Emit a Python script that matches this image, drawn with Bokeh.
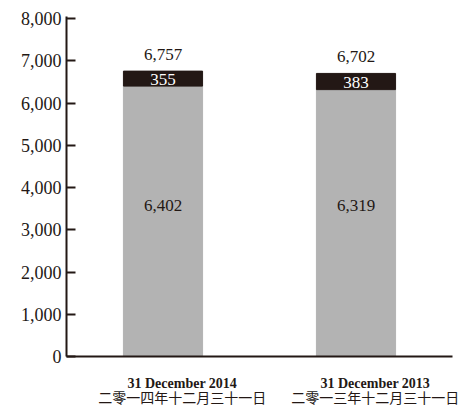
from bokeh.plotting import figure
from bokeh.models import (Range1d, LinearAxis, FixedTicker, NumeralTickFormatter,
                          ColumnDataSource)
from bokeh.embed import file_html
from bokeh.resources import INLINE
from bokeh.core.properties import value

# ---- data ----
dates_en = ["31 December 2014", "31 December 2013"]
dates_zh = ["二零一四年十二月三十一日", "二零一三年十二月三十一日"]
base_values = [6402, 6319]
top_values = [355, 383]
totals = [6757, 6702]
y_ticks = [0, 1000, 2000, 3000, 4000, 5000, 6000, 7000, 8000]

# ---- style ----
INK = "#231815"
GREY = "#b3b3b3"
SERIF = "Liberation Serif"
INNER_LABEL_Y = 3570
BAR_W = 0.41

idx = list(range(len(dates_en)))
stack_top = [b + t for b, t in zip(base_values, top_values)]
src = ColumnDataSource(dict(
    x=idx,
    base=base_values,
    stack_top=stack_top,
    total=totals,
    mid=[b + t / 2 for b, t in zip(base_values, top_values)],
    inner=[INNER_LABEL_Y] * len(idx),
    base_lbl=[f"{v:,}" for v in base_values],
    top_lbl=[f"{v:,}" for v in top_values],
    total_lbl=[f"{v:,}" for v in totals],
))

p = figure(width=465, height=408,
           x_range=Range1d(-0.5, 1.5), y_range=Range1d(0, 8050),
           output_backend="svg", toolbar_location=None,
           x_axis_location=None, y_axis_location=None,
           min_border_left=66, min_border_right=13,
           min_border_top=16, min_border_bottom=51)
p.extra_x_ranges = {"lab": Range1d(-0.6, 1.4)}
p.outline_line_color = None
p.background_fill_color = "white"
p.border_fill_color = "white"

p.vbar(x="x", bottom=0, top="base", width=BAR_W, color=GREY, source=src)
p.vbar(x="x", bottom="base", top="stack_top", width=BAR_W, color=INK, source=src)

p.text(x="x", y="total", text="total_lbl", y_offset=-17,
       text_align="center", text_baseline="middle",
       text_font=value(SERIF), text_font_size="17px", text_color=INK, source=src)
p.text(x="x", y="mid", text="top_lbl", y_offset=1,
       text_align="center", text_baseline="middle",
       text_font=value(SERIF), text_font_size="17px", text_color="white", source=src)
p.text(x="x", y="inner", text="base_lbl",
       text_align="center", text_baseline="middle",
       text_font=value(SERIF), text_font_size="17px", text_color=INK, source=src)

yax = LinearAxis(ticker=FixedTicker(ticks=y_ticks),
                 formatter=NumeralTickFormatter(format="0,0"),
                 axis_line_color=INK, axis_line_width=2,
                 major_tick_in=9, major_tick_out=0,
                 major_tick_line_color=INK, major_tick_line_width=2,
                 minor_tick_line_color=None,
                 major_label_text_font=SERIF, major_label_text_font_size="18px",
                 major_label_text_color=INK, major_label_standoff=5)
p.add_layout(yax, "left")

xax = LinearAxis(x_range_name="lab", ticker=FixedTicker(ticks=idx),
                 major_label_overrides={i: s for i, s in zip(idx, dates_en)},
                 axis_line_color=INK, axis_line_width=2,
                 major_tick_line_color=None, minor_tick_line_color=None,
                 major_tick_in=0, major_tick_out=0,
                 major_label_text_font=SERIF, major_label_text_font_style="bold",
                 major_label_text_font_size="14px", major_label_text_color=INK,
                 major_label_standoff=19)
p.add_layout(xax, "below")

zhax = LinearAxis(x_range_name="lab", ticker=FixedTicker(ticks=idx),
                  major_label_overrides={i: s for i, s in zip(idx, dates_zh)},
                  axis_line_color=None,
                  major_tick_line_color=None, minor_tick_line_color=None,
                  major_tick_in=0, major_tick_out=0,
                  major_label_text_font="Liberation Serif, Noto Sans CJK TC",
                  major_label_text_font_size="14px", major_label_text_color=INK,
                  major_label_standoff=-3)
p.add_layout(zhax, "below")

p.xgrid.visible = False
p.ygrid.visible = False

open("out.html", "w").write(file_html(p, INLINE))
